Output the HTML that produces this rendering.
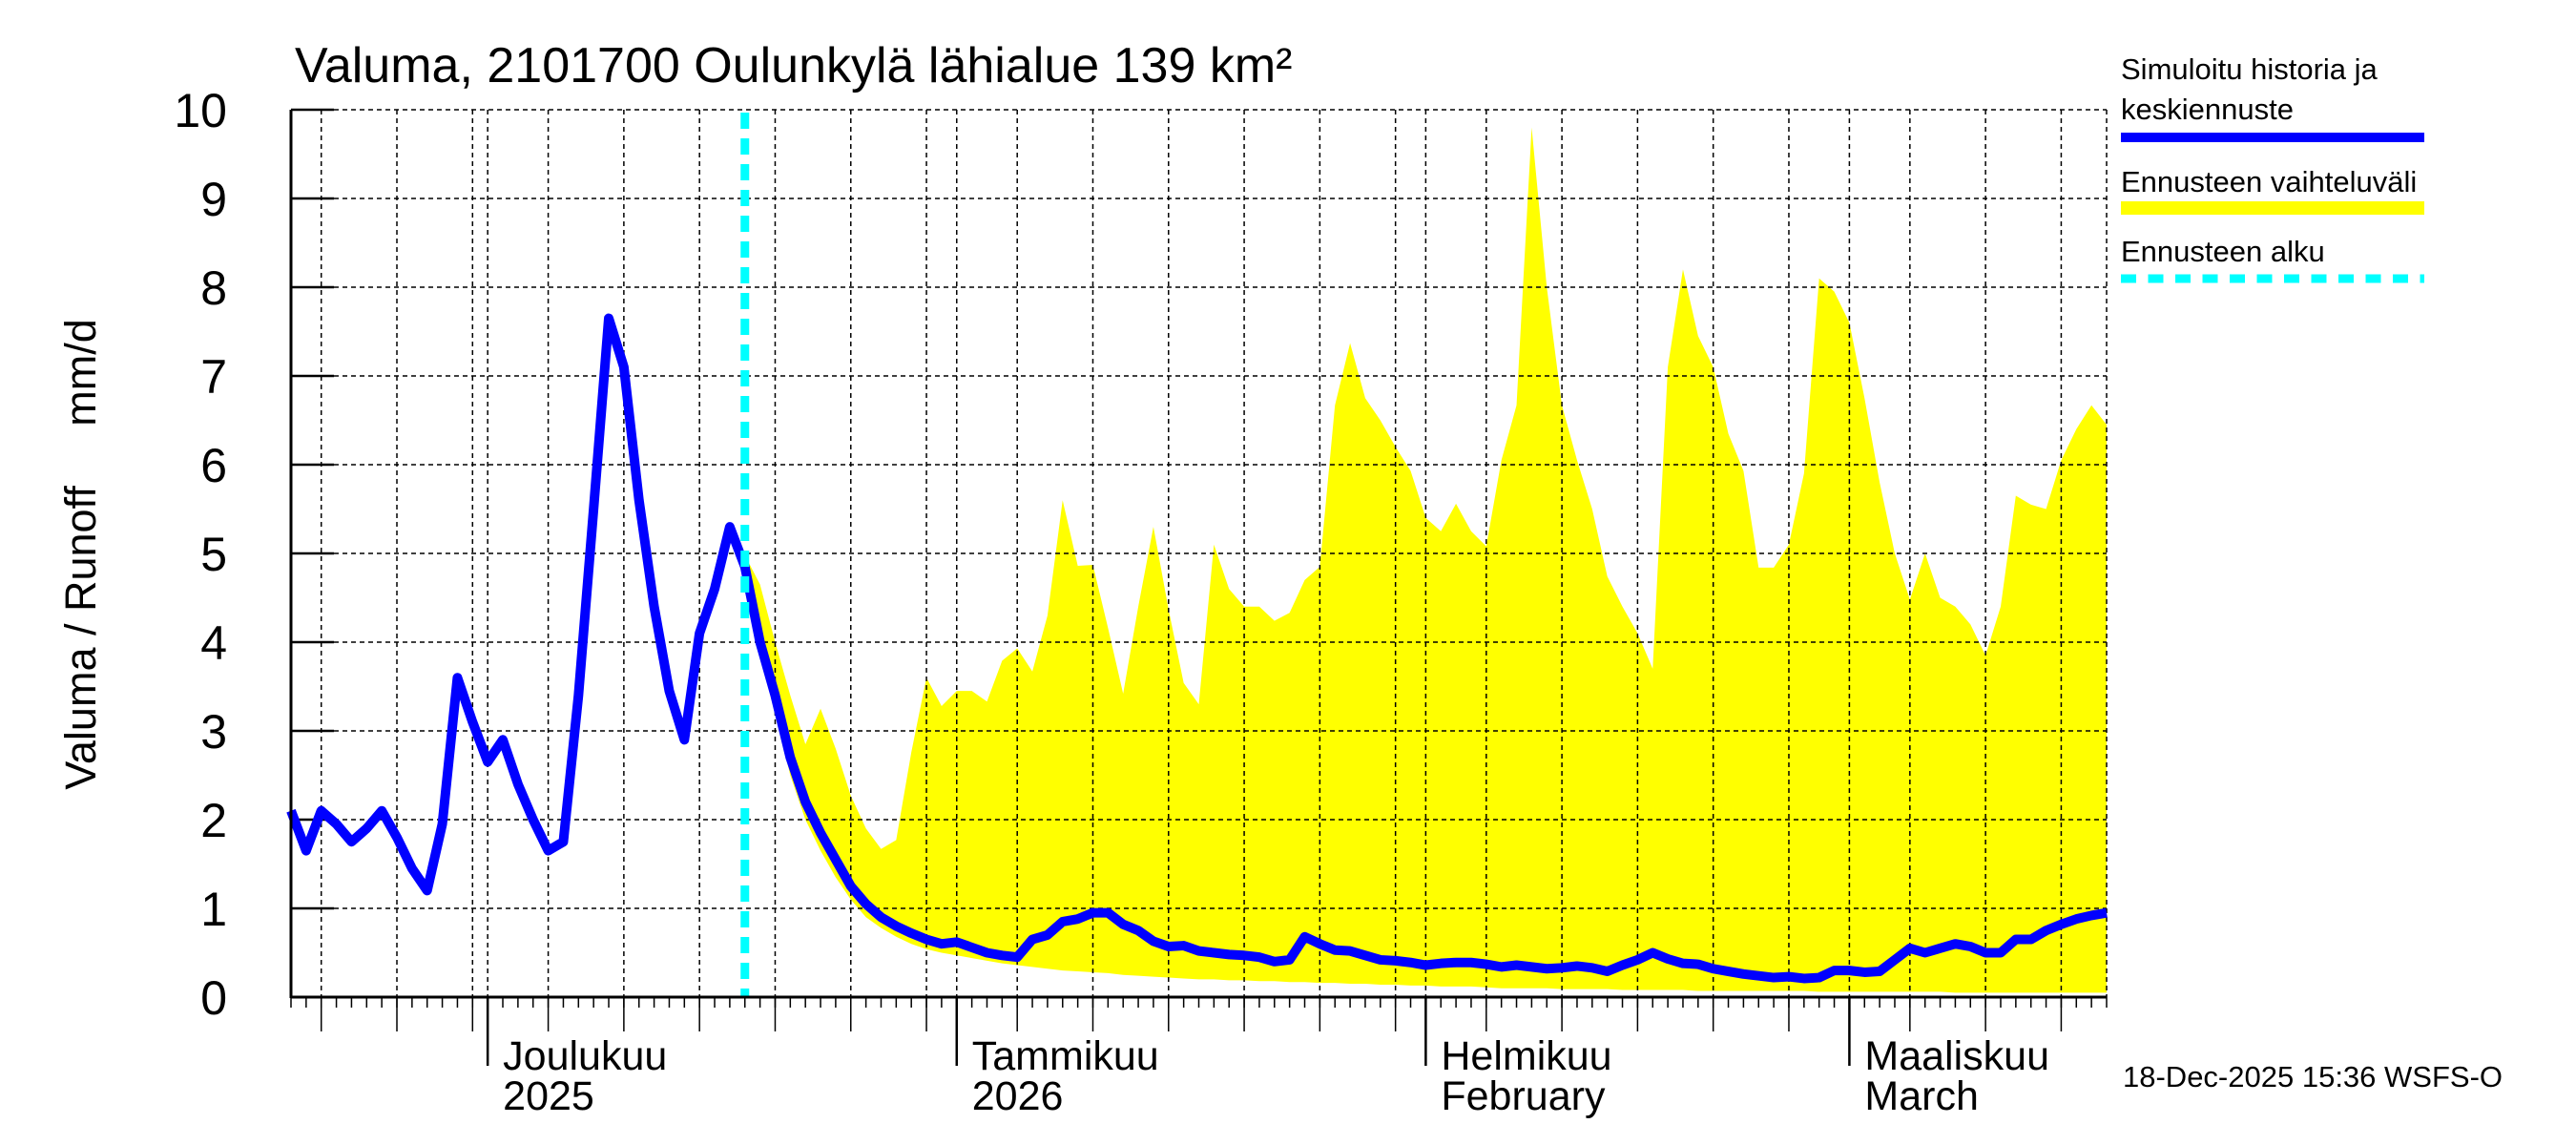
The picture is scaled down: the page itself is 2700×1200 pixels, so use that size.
<!DOCTYPE html>
<html><head><meta charset="utf-8"><style>
html,body{margin:0;padding:0;background:#fff;}
svg{display:block;font-family:"Liberation Sans",Arial,sans-serif;}
</style></head><body>
<svg id="chart" width="2700" height="1200" viewBox="0 0 2700 1200" xmlns="http://www.w3.org/2000/svg">
<text x="309" y="86" font-size="52">Valuma, 2101700 Oulunkylä lähialue 139 km²</text>
<text transform="translate(100,581) rotate(-90)" text-anchor="middle" font-size="45" xml:space="preserve" style="white-space:pre">Valuma / Runoff     mm/d</text>
<g id="plot"></g>
<g>
<text x="2223" y="83" font-size="31">Simuloitu historia ja</text>
<text x="2223" y="125" font-size="31">keskiennuste</text>
<rect x="2223" y="139" width="318" height="10" fill="#0000ff"/>
<text x="2223" y="201" font-size="31">Ennusteen vaihteluväli</text>
<rect x="2223" y="211" width="318" height="14" fill="#ffff00"/>
<text x="2223" y="274" font-size="31">Ennusteen alku</text>
<line x1="2223" y1="292" x2="2541" y2="292" stroke="#00ffff" stroke-width="9" stroke-dasharray="16,12.5"/>
</g>
<text x="2225" y="1139" font-size="31">18-Dec-2025 15:36 WSFS-O</text>
</svg>
<script>
// day index 0 = 18 Nov 2025
const histValues = [2.1,1.65,2.1,1.95,1.75,1.9,2.1,1.8,1.45,1.2,1.95,3.6,3.1,2.65,2.9,2.4,2.0,1.65,1.75,3.4,5.5,7.65,7.1,5.6,4.4,3.45,2.9,4.1,4.6,5.3];
const meanForecast = [4.85,4.0,3.4,2.7,2.2,1.85,1.55,1.25,1.05,0.9,0.8,0.72,0.65,0.6,0.62,0.56,0.5,0.47,0.45,0.65,0.7,0.85,0.88,0.95,0.95,0.82,0.75,0.63,0.57,0.58,0.52,0.5,0.48,0.47,0.45,0.4,0.42,0.68,0.6,0.53,0.52,0.47,0.42,0.41,0.39,0.36,0.38,0.39,0.39,0.37,0.34,0.36,0.34,0.32,0.33,0.35,0.33,0.29,0.36,0.42,0.5,0.43,0.38,0.37,0.32,0.29,0.26,0.24,0.22,0.23,0.21,0.22,0.3,0.3,0.28,0.29,0.42,0.55,0.5,0.55,0.6,0.57,0.5,0.5,0.65,0.65,0.75,0.82,0.88,0.92,0.95];
const upperBand = [4.98,4.65,4.0,3.4,2.85,3.25,2.8,2.27,1.9,1.67,1.77,2.76,3.6,3.28,3.45,3.45,3.33,3.79,3.93,3.67,4.3,5.6,4.86,4.87,4.16,3.42,4.4,5.3,4.37,3.54,3.3,5.1,4.6,4.4,4.4,4.24,4.33,4.7,4.85,6.67,7.37,6.75,6.5,6.2,5.93,5.4,5.25,5.56,5.25,5.08,6.05,6.67,9.8,8.0,6.67,6.05,5.5,4.74,4.4,4.1,3.7,7.1,8.2,7.45,7.1,6.35,5.93,4.84,4.84,5.1,5.9,8.1,7.95,7.6,6.75,5.8,5.0,4.48,5.0,4.5,4.4,4.2,3.85,4.4,5.65,5.55,5.5,6.05,6.4,6.67,6.45];
const lowerBand = [4.85,3.9,3.2,2.5,2.0,1.65,1.35,1.1,0.9,0.78,0.68,0.6,0.54,0.5,0.47,0.44,0.41,0.38,0.36,0.34,0.32,0.3,0.29,0.28,0.27,0.25,0.24,0.23,0.22,0.21,0.2,0.2,0.19,0.19,0.18,0.18,0.17,0.17,0.16,0.16,0.15,0.15,0.14,0.14,0.13,0.13,0.12,0.12,0.12,0.11,0.1,0.1,0.1,0.1,0.09,0.09,0.09,0.09,0.08,0.08,0.08,0.08,0.08,0.07,0.07,0.07,0.07,0.07,0.07,0.07,0.07,0.06,0.06,0.06,0.06,0.06,0.06,0.06,0.06,0.06,0.05,0.05,0.05,0.05,0.05,0.05,0.05,0.05,0.05,0.05,0.05];
const forecastStartDay = 30;
const yTicks = [0,1,2,3,4,5,6,7,8,9,10];
const monthDays = [13,44,75,103];
const monthLabels1 = ["Joulukuu","Tammikuu","Helmikuu","Maaliskuu"];
const monthLabels2 = ["2025","2026","February","March"];
const gridDays = [2,7,12,17,22,27,32,37,42,48,53,58,63,68,73,79,84,89,94,99,107,112,117];
const totalDays = 120;

const L=305,R=2208,T=115,B=1045;
const x = d => L + d*(R-L)/totalDays;
const y = v => B - v*(B-T)/10;
const NS="http://www.w3.org/2000/svg";
const g=document.getElementById('plot');
function mk(tag,attrs){const e=document.createElementNS(NS,tag);for(const k in attrs)e.setAttribute(k,attrs[k]);g.appendChild(e);return e;}

let pts=[];
upperBand.forEach((v,i)=>pts.push(x(forecastStartDay+i)+','+y(v)));
for(let i=lowerBand.length-1;i>=0;i--)pts.push(x(forecastStartDay+i)+','+y(lowerBand[i]));
let band=mk('polygon',{points:pts.join(' '),fill:'#ffff00'});



yTicks.forEach(t=>{
  if(t>0){let l=mk('line',{x1:L,x2:R,y1:y(t),y2:y(t),stroke:'#000','stroke-width':1.5,'stroke-dasharray':'5,4'});
  
  }
  let tk=mk('line',{x1:L,x2:L+45,y1:y(t),y2:y(t),stroke:'#000','stroke-width':2.5});
  
  
  let tx=mk('text',{x:238,y:y(t)+18,'text-anchor':'end','font-size':50});
  tx.textContent=t;
  
  
});
gridDays.concat(monthDays).forEach(d=>{
  let l=mk('line',{x1:x(d),x2:x(d),y1:T,y2:B,stroke:'#000','stroke-width':1.5,'stroke-dasharray':'5,4'});
  
  
});
gridDays.forEach(d=>{
  let l=mk('line',{x1:x(d),x2:x(d),y1:B,y2:1081,stroke:'#000','stroke-width':1.5});
  
  
});
let re=mk('line',{x1:R,x2:R,y1:T,y2:B,stroke:'#000','stroke-width':1.5,'stroke-dasharray':'5,4'});


for(let d=0;d<=totalDays;d++){
  let l=mk('line',{x1:x(d),x2:x(d),y1:B,y2:1056,stroke:'#000','stroke-width':1.5});
  
  
}
monthDays.forEach((d,i)=>{
  let l=mk('line',{x1:x(d),x2:x(d),y1:B,y2:1117,stroke:'#000','stroke-width':2.5});
  
  
  let t1=mk('text',{x:x(d)+16,y:1121,'font-size':43});
  t1.textContent=monthLabels1[i];
  
  
  let t2=mk('text',{x:x(d)+16,y:1163,'font-size':43});
  t2.textContent=monthLabels2[i];
  
  
});

let lp=[];
histValues.forEach((v,i)=>lp.push(x(i)+','+y(v)));
meanForecast.forEach((v,i)=>lp.push(x(forecastStartDay+i)+','+y(v)));
let ml=mk('polyline',{points:lp.join(' '),fill:'none',stroke:'#0000ff','stroke-width':10,'stroke-linejoin':'round'});



let fs=mk('line',{x1:x(forecastStartDay),x2:x(forecastStartDay),y1:T+3,y2:B,stroke:'#00ffff','stroke-width':9,'stroke-dasharray':'17,10'});



let ax=mk('line',{x1:L,x2:L,y1:T,y2:B+1,stroke:'#000','stroke-width':3});


let bx=mk('line',{x1:L,x2:R,y1:B,y2:B,stroke:'#000','stroke-width':3});


</script>
</body></html>
